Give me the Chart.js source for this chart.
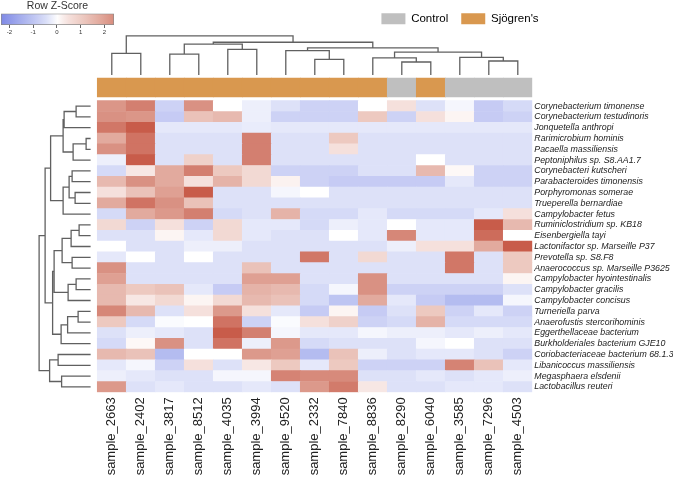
<!DOCTYPE html>
<html>
<head>
<meta charset="utf-8">
<script src="https://cdn.jsdelivr.net/npm/chart.js@4.4.1/dist/chart.umd.min.js"></script>
<style>
  body { margin: 0; background: #fff; }
  #wrap { position: relative; width: 673px; height: 478px; }
  #wrap > div { position: absolute; }
</style>
</head>
<body>
<div id="wrap">
  <div style="left:0;top:0;width:673px;height:478px"><canvas id="heat"></canvas></div>
  <div style="left:0;top:0;width:122px;height:42px"><canvas id="zkey"></canvas></div>
  <div style="left:340px;top:0;width:240px;height:60px"><canvas id="gkey"></canvas></div>
</div>
<script>
// ---- data ----
const samples = ['sample_2663', 'sample_2402', 'sample_3817', 'sample_8512', 'sample_4035',
  'sample_3994', 'sample_9520', 'sample_2332', 'sample_7840', 'sample_8836',
  'sample_8290', 'sample_6040', 'sample_3585', 'sample_7296', 'sample_4503'];
const groupOf = ['S', 'S', 'S', 'S', 'S', 'S', 'S', 'S', 'S', 'S', 'C', 'S', 'C', 'C', 'C'];
const groupNames = ['Control', "Sjögren's"];

const taxa = ['Corynebacterium timonense', 'Corynebacterium testudinoris', 'Jonquetella anthropi',
  'Rarimicrobium hominis', 'Pacaella massiliensis', 'Peptoniphilus sp. S8.AA1.7',
  'Corynebacteri kutscheri', 'Parabacteroides timonensis', 'Porphyromonas somerae',
  'Trueperella bernardiae', 'Campylobacter fetus', 'Ruminiclostridium sp. KB18',
  'Eisenbergiella tayi', 'Lactonifactor sp. Marseille P37', 'Prevotella sp. S8.F8',
  'Anaerococcus sp. Marseille P3625', 'Campylobacter hyointestinalis', 'Campylobacter gracilis',
  'Campylobacter concisus', 'Turneriella parva', 'Anaerofustis stercorihominis',
  'Eggerthellaceae bacterium', 'Burkholderiales bacterium GJE10', 'Coriobacteriaceae bacterium 68.1.3',
  'Libanicoccus massiliensis', 'Megasphaera elsdenii', 'Lactobacillus reuteri'];

// row z-scores, one array per taxon, columns in sample order
const zScores = [
  [2.2, 2.7, -0.7, 2.3, 0.0, -0.2, -0.4, -0.7, -0.7, 0.0, 0.5, -0.4, -0.1, -0.85, -0.55],
  [2.3, 2.2, -0.85, 1.25, 1.45, -0.2, -0.7, -0.7, -0.7, 1.1, -0.7, 0.5, 0.15, -0.85, -0.7],
  [2.9, 3.6, -0.3, -0.3, -0.3, -0.25, -0.3, -0.3, -0.3, -0.3, -0.3, -0.3, -0.3, -0.3, -0.3],
  [1.8, 3.0, -0.4, -0.4, -0.4, 2.7, -0.4, -0.4, 1.1, -0.4, -0.4, -0.4, -0.4, -0.4, -0.4],
  [2.3, 3.0, -0.4, -0.4, -0.4, 2.7, -0.4, -0.4, 0.5, -0.4, -0.4, -0.4, -0.4, -0.4, -0.4],
  [-0.2, 3.6, -0.4, 0.9, -0.4, 2.7, -0.4, -0.4, -0.4, -0.4, -0.4, 0.0, -0.4, -0.4, -0.4],
  [-0.55, 0.35, 1.8, 2.7, 1.1, 0.7, -0.7, -0.7, -0.7, -0.4, -0.4, 1.45, 0.1, -0.7, -0.7],
  [1.45, 2.3, 1.8, 0.5, 1.6, 0.7, 0.2, -0.7, -0.85, -0.85, -0.85, -0.85, -0.3, -0.7, -0.7],
  [0.5, 1.25, 2.0, 3.6, -0.4, -0.4, -0.1, 0.0, -0.4, -0.4, -0.4, -0.4, -0.4, -0.4, -0.4],
  [1.8, 3.0, 2.3, 1.25, -0.4, -0.4, -0.4, -0.4, -0.4, -0.4, -0.4, -0.4, -0.4, -0.4, -0.4],
  [-0.55, 1.8, 2.15, 2.7, -0.55, -0.4, 1.6, -0.55, -0.55, -0.3, -0.55, -0.55, -0.55, -0.3, 0.5],
  [0.7, -0.7, 0.5, -0.7, 0.7, -0.3, -0.3, -0.55, -0.2, -0.3, 0.0, -0.3, -0.3, 3.6, 1.45],
  [-0.4, -0.4, 0.15, -0.3, 0.7, -0.3, -0.4, -0.4, 0.0, -0.3, 2.5, -0.3, -0.3, 3.2, 0.0],
  [0.0, -0.4, -0.4, -0.2, -0.2, -0.4, -0.4, -0.4, -0.4, -0.4, -0.2, 0.5, 0.5, 1.8, 3.6],
  [-0.3, 0.0, -0.4, 0.0, -0.4, -0.4, -0.4, 2.9, -0.4, 0.7, -0.4, -0.4, 2.9, -0.4, 1.1],
  [2.3, -0.4, -0.4, -0.4, -0.4, 1.25, -0.4, -0.4, -0.4, -0.4, -0.4, -0.4, 2.9, -0.4, 1.1],
  [2.0, -0.4, -0.4, -0.4, -0.4, 2.0, 2.0, -0.4, -0.4, 2.3, -0.4, -0.4, -0.4, -0.4, 0.15],
  [1.45, 1.1, 1.25, -0.3, -0.85, 1.6, 1.45, -0.55, -0.1, 2.3, -0.7, -0.7, -0.7, -0.7, -0.4],
  [1.45, 0.35, 0.7, 0.15, 0.7, 1.45, 1.25, -0.55, -1.0, 1.8, -0.3, -0.85, -1.2, -1.2, -0.1],
  [2.5, 1.45, -0.4, 0.5, 2.15, 0.5, -0.3, -0.85, 0.15, -0.85, -0.4, 1.1, -0.7, -0.3, -0.7],
  [1.1, -0.55, -0.05, 0.0, 3.0, -0.7, -0.05, 0.5, 0.9, -0.7, -0.55, 1.6, -0.55, -0.55, -0.55],
  [-0.4, -0.2, -0.3, -0.4, 3.6, 2.7, -0.1, -0.3, -0.3, -0.1, -0.2, -0.2, -0.3, -0.2, -0.3],
  [-0.55, 0.1, 2.3, -0.4, 3.0, -0.2, 2.15, -0.55, -0.4, -0.4, -0.4, -0.1, 0.0, -0.4, -0.4],
  [1.45, 1.25, -1.2, 0.0, 0.0, 2.15, 2.0, -1.2, 1.25, -0.2, -0.4, -0.3, -0.3, -0.4, -0.7],
  [-0.3, -0.1, -0.7, 0.5, -0.4, 0.35, 1.1, -0.3, 1.1, -0.7, -0.7, -0.7, 2.6, 1.25, -0.3],
  [-0.2, -0.3, -0.4, -0.4, -0.1, -0.1, 2.6, 2.45, 2.45, -0.4, -0.4, -0.3, -0.4, -0.3, -0.2],
  [2.15, -0.4, -0.3, -0.4, -0.4, -0.3, -0.4, 2.15, 2.8, 0.35, -0.4, -0.4, -0.3, -0.3, -0.4]
];

// hclust style merges: negative = leaf (display order, 1-based), positive = earlier merge
const colMerges = [
  [-1, -2, 5.4], [-3, -4, 5.2], [-5, -6, 6.4], [2, 3, 7.7], [-8, -9, 3.9], [-7, 5, 6.1],
  [-11, -12, 3.25], [-10, 7, 4.3], [-14, -15, 3.5], [-13, 9, 4.4], [8, 10, 5.7],
  [6, 11, 6.8], [4, 12, 8.2], [1, 13, 9.8]
];
const rowMerges = [
  [-1, -2, 2.9], [1, -3, 5.3], [-4, -5, 0.9], [3, -6, 3.5], [2, 4, 5.5],
  [-7, -8, 3.7], [-9, -10, 3.1], [6, 7, 4.3], [8, -11, 5.5], [5, 9, 8.0],
  [-12, -13, 2.3], [11, -14, 3.9], [-15, -16, 3.7], [12, 13, 5.7],
  [-17, -18, 2.9], [15, -19, 4.5], [14, 16, 7.3],
  [-20, -21, 2.5], [18, -22, 4.6], [19, -23, 5.9], [17, 20, 7.6], [10, 21, 9.1],
  [-24, -25, 6.5], [-26, -27, 5.8], [23, 24, 8.2], [22, 25, 10.3]
];

const keyTicks = [-2, -1, 0, 1, 2];
const keyRange = [-2.35, 2.4];

// ---- styling ----
const FONT = 'Arial, "Liberation Sans", Helvetica, sans-serif';
const groupColors = { C: '#bfbfbf', S: '#d9984f' };
const zStops = [-2.4, -1.2, -0.7, -0.4, -0.1, 0, 0.4, 1.0, 1.8, 2.5, 3.6];
const zRGB = [[125, 135, 230], [180, 188, 240], [205, 210, 245], [221, 225, 248], [245, 246, 253],
  [255, 255, 255], [246, 228, 224], [238, 205, 197], [226, 170, 158], [214, 135, 120], [200, 92, 74]];

function zColor(z) {
  if (z <= zStops[0]) return 'rgb(' + zRGB[0].join(',') + ')';
  for (let k = 1; k < zStops.length; k++) {
    if (z <= zStops[k]) {
      const t = (z - zStops[k - 1]) / (zStops[k] - zStops[k - 1]);
      const c = zRGB[k - 1].map((v, n) => Math.round(v + (zRGB[k][n] - v) * t));
      return 'rgb(' + c.join(',') + ')';
    }
  }
  return 'rgb(' + zRGB[zRGB.length - 1].join(',') + ')';
}

// dendrogram -> polyline points, NaN points break the line between merges
function dendroPoints(merges, toPoint) {
  const nodes = [];
  const pts = [];
  const get = (id) => (id < 0 ? { p: -id - 0.5, h: 0 } : nodes[id - 1]);
  merges.forEach(([a, b, h]) => {
    const l = get(a), r = get(b);
    pts.push(toPoint(l.p, l.h), toPoint(l.p, h), toPoint(r.p, h), toPoint(r.p, r.h), { x: NaN, y: NaN });
    nodes.push({ p: (l.p + r.p) / 2, h: h });
  });
  return pts;
}

// the column tree sits above the heatmap, the row tree left of it
const colTree = dendroPoints(colMerges, (p, h) => ({ x: p, y: -2.38 - h * 0.37 }));
const rowTree = dendroPoints(rowMerges, (p, h) => ({ x: -0.23 - h * 0.1724, y: p }));

const cells = [];
const cellColors = [];
zScores.forEach((row, i) => {
  row.forEach((z, j) => {
    cells.push({ x: j + 0.5, y: [i, i + 1] });
    cellColors.push(zColor(z));
  });
});
const groupBars = samples.map((s, j) => ({ x: j + 0.5, y: [-2.1, -0.34] }));

const treeStyle = {
  type: 'line', borderColor: '#606060', borderWidth: 1.3, pointRadius: 0,
  spanGaps: false, tension: 0, fill: false, borderJoinStyle: 'miter'
};

new Chart(document.getElementById('heat'), {
  type: 'bar',
  data: {
    datasets: [
      { label: 'heat', data: cells, backgroundColor: cellColors, borderWidth: 0,
        grouped: false, barPercentage: 1, categoryPercentage: 1 },
      { label: 'group', data: groupBars, backgroundColor: groupOf.map(g => groupColors[g]),
        borderWidth: 0, grouped: false, barPercentage: 1, categoryPercentage: 1 },
      Object.assign({ label: 'columns', data: colTree }, treeStyle),
      Object.assign({ label: 'rows', data: rowTree }, treeStyle)
    ]
  },
  options: {
    responsive: true,
    maintainAspectRatio: false,
    animation: false,
    events: [],
    layout: { padding: { left: 30, top: 30, right: 0, bottom: 0 } },
    plugins: { legend: { display: false }, tooltip: { enabled: false } },
    scales: {
      x: {
        type: 'linear', min: -2.32, max: 15, offset: false,
        grid: { display: false, drawTicks: false }, border: { display: false },
        afterBuildTicks: (s) => { s.ticks = samples.map((_, j) => ({ value: j + 0.5 })); },
        afterFit: (s) => { s.height = 85.7; },
        ticks: {
          autoSkip: false, minRotation: 90, maxRotation: 90, padding: 5,
          color: '#222', font: { family: FONT, size: 13 },
          callback: (v, idx) => samples[idx]
        }
      },
      y: {
        type: 'linear', position: 'right', reverse: true, min: -6.546, max: 27,
        grid: { display: false, drawTicks: false }, border: { display: false },
        afterBuildTicks: (s) => { s.ticks = taxa.map((_, i) => ({ value: i + 0.5 })); },
        afterFit: (s) => { s.width = 140.7; },
        ticks: {
          autoSkip: false, padding: 2, color: '#222',
          font: { family: FONT, size: 8.8, style: 'italic' },
          callback: (v, idx) => taxa[idx]
        }
      }
    }
  }
});

// colour key
new Chart(document.getElementById('zkey'), {
  type: 'bar',
  data: {
    labels: [''],
    datasets: [{
      data: [keyRange],
      backgroundColor: (c) => {
        const ch = c.chart;
        if (!ch.chartArea) return '#fff';
        const sx = ch.scales.x;
        const g = ch.ctx.createLinearGradient(sx.getPixelForValue(keyRange[0]), 0, sx.getPixelForValue(keyRange[1]), 0);
        for (let k = 0; k <= 20; k++) {
          const z = keyRange[0] + (keyRange[1] - keyRange[0]) * k / 20;
          g.addColorStop(k / 20, zColor(z));
        }
        return g;
      },
      borderColor: '#8a8a8a', borderWidth: 1, borderSkipped: false,
      barPercentage: 1, categoryPercentage: 1
    }]
  },
  options: {
    indexAxis: 'y',
    responsive: true,
    maintainAspectRatio: false,
    animation: false,
    events: [],
    layout: { padding: { left: 1, right: 8, top: 0, bottom: 0 } },
    plugins: {
      legend: { display: false }, tooltip: { enabled: false },
      title: { display: true, text: 'Row Z-Score', color: '#333', padding: { top: 0, bottom: 1 },
        font: { family: FONT, size: 10.5, weight: 'normal' } }
    },
    scales: {
      x: {
        type: 'linear', min: keyRange[0], max: keyRange[1],
        border: { display: false },
        grid: { drawOnChartArea: false, tickLength: 3, color: '#666' },
        afterBuildTicks: (s) => { s.ticks = keyTicks.map(v => ({ value: v })); },
        afterFit: (s) => { s.height = 17; },
        ticks: { padding: 1, color: '#333', font: { family: FONT, size: 6 } }
      },
      y: { display: false }
    }
  }
});

// group legend
new Chart(document.getElementById('gkey'), {
  type: 'bar',
  data: { datasets: [] },
  options: {
    responsive: true,
    maintainAspectRatio: false,
    animation: false,
    events: [],
    scales: { x: { display: false }, y: { display: false } },
    plugins: {
      tooltip: { enabled: false },
      legend: {
        display: true, position: 'top', align: 'center',
        labels: {
          boxWidth: 24, boxHeight: 11, padding: 13, color: '#222',
          font: { family: FONT, size: 11.5 },
          generateLabels: () => groupNames.map((name) => {
            const col = groupColors[name === 'Control' ? 'C' : 'S'];
            return { text: name, fillStyle: col, strokeStyle: col, lineWidth: 0, hidden: false };
          })
        }
      }
    }
  }
});
</script>
</body>
</html>
